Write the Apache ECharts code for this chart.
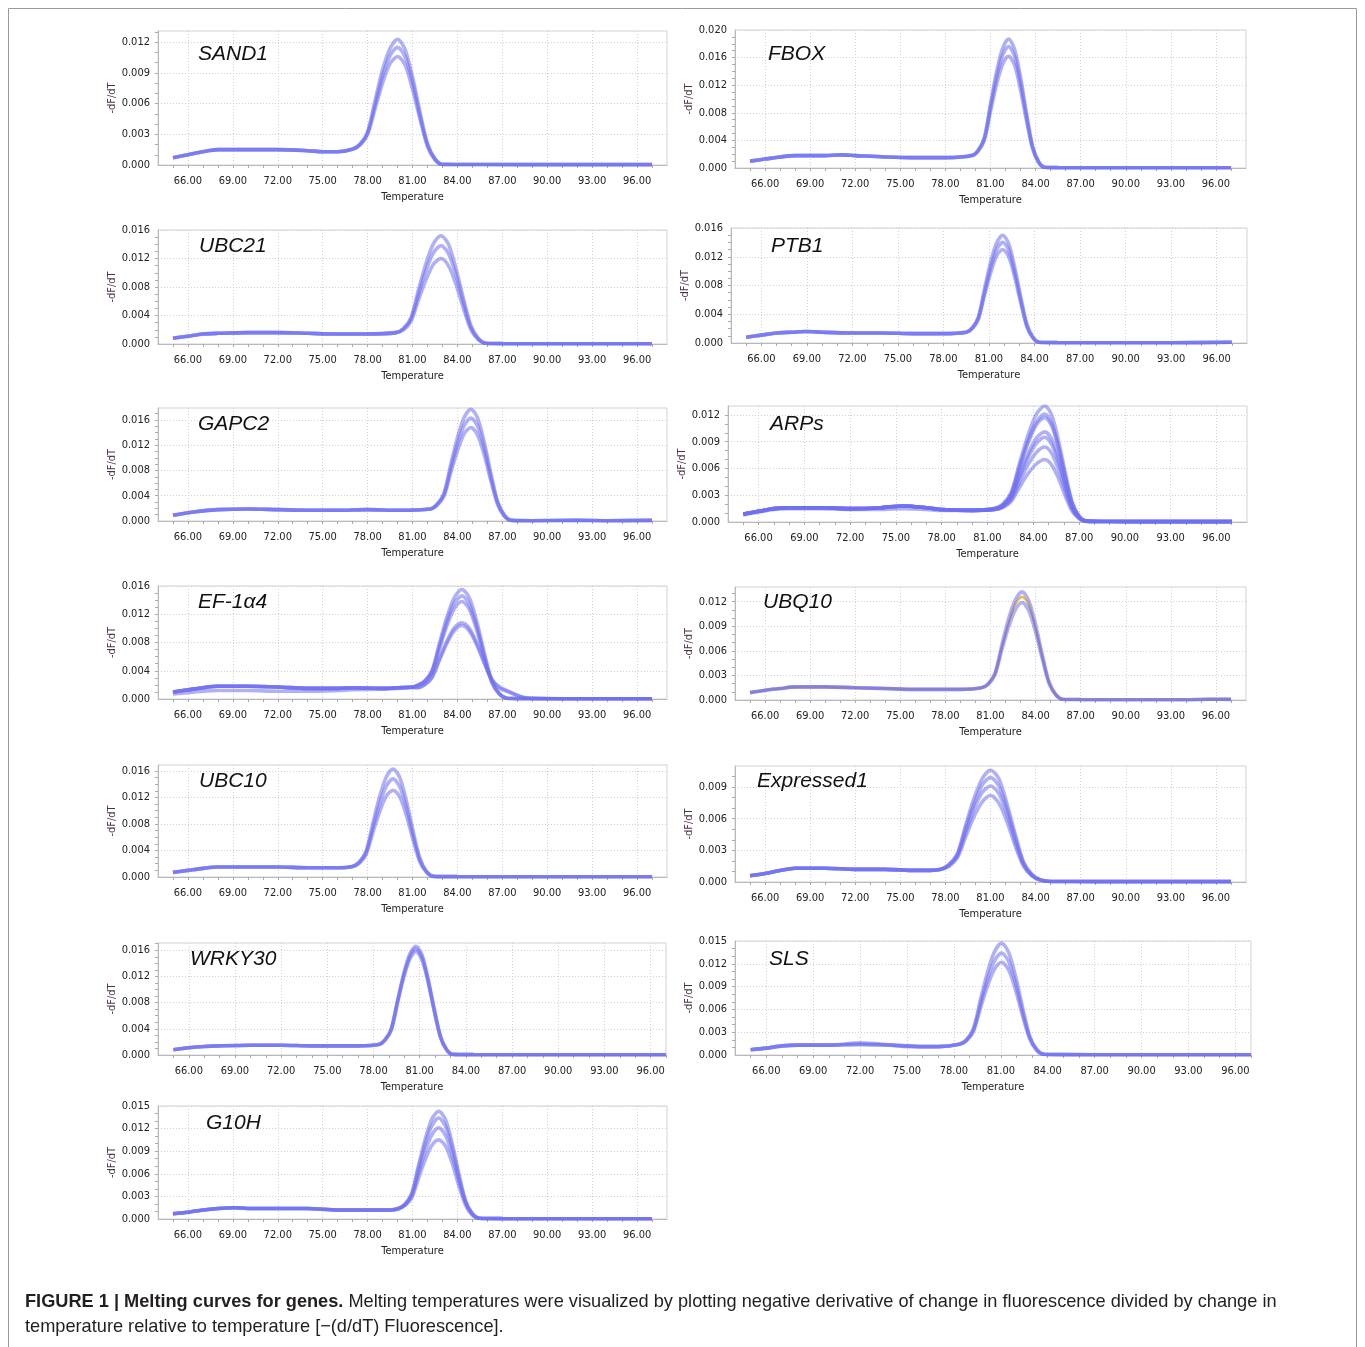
<!DOCTYPE html>
<html><head><meta charset="utf-8">
<script src="https://cdn.jsdelivr.net/npm/echarts@6/dist/echarts.min.js"></script>
<style>html,body{margin:0;padding:0;background:#fff}#c{width:1365px;height:1347px}</style>
</head><body><div id="c"></div><script>
// ---------------- tick labels ----------------
const X_LABELS = [66, 69, 72, 75, 78, 81, 84, 87, 90, 93, 96];
const X_MINOR = [65,66,67,68,69,70,71,72,73,74,75,76,77,78,79,80,81,82,83,84,85,86,87,88,89,90,91,92,93,94,95,96,97];
const Y_T_12 = [0, 0.003, 0.006, 0.009, 0.012];
const Y_T_16 = [0, 0.004, 0.008, 0.012, 0.016];
const Y_T_20 = [0, 0.004, 0.008, 0.012, 0.016, 0.020];
const Y_T_15 = [0, 0.003, 0.006, 0.009, 0.012, 0.015];
const Y_T_9 = [0, 0.003, 0.006, 0.009];

// ---------------- data (temperature, -dF/dT) ----------------
// SAND1
const SAND1_T = [65,66,67,68,70,72,74,75,76, 77,77.5,78,78.5,79,79.5,80,80.5,81,81.5,82,82.5,83, 84,88,92,97];
const SAND1_base = [[0.0007,0.0010,0.0013,0.0015,0.0015,0.0015,0.0014,0.0013,0.0013]];
const SAND1_peak = [
 [0.00156,0.00205,0.00325,0.0063,0.0093,0.0114,0.0123,0.0113,0.0086,0.0052,0.0021,0.0006,0.00006],
 [0.00155,0.0020,0.0031,0.0059,0.0087,0.0107,0.0115,0.0106,0.0081,0.0048,0.0020,0.0006,0.00006],
 [0.00154,0.00195,0.0030,0.0055,0.0080,0.0099,0.0106,0.0098,0.0074,0.0045,0.0018,0.0005,0.00005]];
const SAND1_tail = [[0.00005,0.00004,0.00004,0.00004]];

// FBOX
const FBOX_T = [65,66,67,68,70,71,72,74,76,78, 79.8,80.2,80.6,81.0,81.4,81.8,82.2,82.6,83.0,83.4,83.8,84.2,84.6, 85.5,88,92,97];
const FBOX_base = [[0.0010,0.0013,0.0016,0.0018,0.0018,0.0019,0.0018,0.0016,0.0015,0.0015]];
const FBOX_peak = [
 [0.0019,0.0026,0.0045,0.0093,0.0139,0.0173,0.0187,0.0172,0.0131,0.0079,0.0032,0.0009,0.0001],
 [0.0018,0.0026,0.0043,0.0088,0.0131,0.0163,0.0176,0.0162,0.0123,0.0074,0.0030,0.0009,0.0001],
 [0.0018,0.0025,0.0041,0.0082,0.0121,0.0150,0.0162,0.0149,0.0113,0.0068,0.0028,0.0008,0.0001]];
const FBOX_tail = [[0.00005,0.00004,0.00004,0.00003]];

// UBC21
const UBC21_T = [65,66,67,68,70,72,74,76,78, 79.9,80.4,80.9,81.4,81.9,82.4,82.9,83.4,83.9,84.4,84.9,85.4,85.9, 87,90,93,97];
const UBC21_base = [[0.0008,0.0011,0.0014,0.0015,0.0016,0.0016,0.0015,0.0014,0.0014]];
const UBC21_peak = [
 [0.0016,0.0022,0.0037,0.0076,0.0113,0.0141,0.0152,0.0140,0.0106,0.0064,0.0026,0.0008,0.0001],
 [0.0016,0.0021,0.0035,0.0070,0.0103,0.0128,0.0138,0.0127,0.0097,0.0058,0.0023,0.0007,0.0001],
 [0.0016,0.0020,0.0032,0.0062,0.0090,0.0112,0.0120,0.0110,0.0084,0.0050,0.0020,0.0006,0.0001]];
const UBC21_tail = [[0.00005,0.00004,0.00004,0.00004]];

// PTB1
const PTB1_T = [65,66,67,68,69,70,72,74,76,78, 79.5,79.9,80.3,80.7,81.1,81.5,81.9,82.3,82.7,83.1,83.5,83.9,84.3, 85.5,89,93,97];
const PTB1_base = [[0.0008,0.0011,0.0014,0.0015,0.0016,0.0015,0.0014,0.0014,0.0013,0.0013]];
const PTB1_peak = [
 [0.0015,0.0021,0.0036,0.0075,0.0112,0.0139,0.0150,0.0138,0.0105,0.0063,0.0026,0.0008,0.0001],
 [0.0015,0.0021,0.0035,0.0070,0.0104,0.0130,0.0140,0.0129,0.0098,0.0059,0.0024,0.0007,0.0001],
 [0.0015,0.0020,0.0033,0.0066,0.0097,0.0121,0.0130,0.0120,0.0091,0.0055,0.0022,0.0007,0.0001]];
const PTB1_tail = [[0.00005,0.00004,0.00004,0.0001]];

// GAPC2
const GAPC2_T = [65,66,67,68,70,72,74,76,78,80, 82.2,82.65,83.1,83.55,84.0,84.45,84.9,85.35,85.8,86.25,86.7,87.15,87.6, 89,92,94,97];
const GAPC2_base = [[0.0009,0.0013,0.0016,0.0018,0.0019,0.0018,0.0017,0.0017,0.0018,0.0017]];
const GAPC2_peak = [
 [0.0019,0.0027,0.0044,0.0089,0.0132,0.0164,0.0177,0.0163,0.0124,0.0074,0.0030,0.0009,0.0001],
 [0.0019,0.0026,0.0042,0.0083,0.0122,0.0151,0.0163,0.0150,0.0114,0.0068,0.0028,0.0008,0.0001],
 [0.0019,0.0025,0.0039,0.0076,0.0111,0.0138,0.0148,0.0136,0.0104,0.0062,0.0025,0.0007,0.0001]];
const GAPC2_tail = [[0.00005,0.0001,0.00005,0.0001]];

// ARPs
const ARPs_T = [65,66,67,68,70,72,74,75.5,77,78,80, 81.45,82.0,82.55,83.1,83.65,84.2,84.75,85.2,85.65,86.1,86.55,87.0,87.45, 89,92,97];
const ARPs_base = [
 [0.0008,0.0011,0.0014,0.0015,0.0015,0.0014,0.0014,0.0015,0.0014,0.0013,0.0013],
 [0.0009,0.0012,0.0015,0.0016,0.0016,0.0015,0.0016,0.0018,0.0016,0.0014,0.0013]];
const ARPs_peak = [
 [0.0014,0.0016,0.0023,0.0039,0.0054,0.0065,0.0070,0.0064,0.0049,0.0029,0.0012,0.0004,0.0001],
 [0.0014,0.0017,0.0025,0.0045,0.0064,0.0078,0.0084,0.0077,0.0059,0.0035,0.0014,0.0004,0.0001],
 [0.0014,0.0018,0.0027,0.0050,0.0072,0.0088,0.0095,0.0087,0.0067,0.0040,0.0016,0.0005,0.0001],
 [0.0014,0.0018,0.0028,0.0053,0.0076,0.0094,0.0101,0.0093,0.0071,0.0042,0.0017,0.0005,0.0001],
 [0.0015,0.0019,0.0031,0.0060,0.0088,0.0109,0.0117,0.0108,0.0082,0.0049,0.0020,0.0006,0.0001],
 [0.0015,0.0019,0.0031,0.0062,0.0091,0.0112,0.0121,0.0111,0.0085,0.0051,0.0021,0.0006,0.0001],
 [0.0015,0.0020,0.0033,0.0066,0.0097,0.0121,0.0130,0.0120,0.0091,0.0055,0.0022,0.0007,0.0001]];
const ARPs_tail = [[0.00005,0.00004,0.00004]];

// EF-1a4
const EF_T = [65,66,67,68,70,72,74,76,77,79,80,81, 81.3,81.8,82.3,82.8,83.3,83.8,84.3,84.8,85.3,85.8,86.3,86.8,87.3, 87.8,88.3,88.8,92,97];
const EF_base = [
 [0.0007,0.0009,0.0011,0.0012,0.0012,0.0011,0.0011,0.0012,0.0013,0.0014,0.0015,0.0016],
 [0.0010,0.0013,0.0016,0.0018,0.0018,0.0017,0.0015,0.0015,0.0016,0.0015,0.0016,0.0017]];
const EF_peak = [
 [0.0016,0.0020,0.0031,0.0057,0.0082,0.0101,0.0108,0.0100,0.0079,0.0052,0.0028,0.0017,0.0012],
 [0.0016,0.0020,0.0030,0.0055,0.0079,0.0097,0.0104,0.0096,0.0076,0.0050,0.0027,0.0016,0.0011],
 [0.0019,0.0024,0.0038,0.0071,0.0104,0.0128,0.0138,0.0127,0.0097,0.0058,0.0023,0.0007,0.0001],
 [0.0019,0.0025,0.0039,0.0075,0.0110,0.0136,0.0146,0.0134,0.0102,0.0061,0.0025,0.0007,0.0001],
 [0.0019,0.0025,0.0040,0.0079,0.0116,0.0144,0.0155,0.0143,0.0109,0.0065,0.0026,0.0008,0.0001]];
const EF_tail = [
 [0.0007,0.0003,0.0001,0.00004,0.00003],
 [0.0007,0.0003,0.0001,0.00004,0.00003],
 [0.00006,0.00005,0.00005,0.00004,0.00003]];

// UBQ10
const UBQ10_T = [65,66,67,68,70,72,74,76,78,79, 80.4,80.85,81.3,81.75,82.2,82.65,83.1,83.55,84.0,84.45,84.9,85.35,85.8, 87,90,94,95.5,97];
const UBQ10_base = [[0.0009,0.0012,0.0014,0.0016,0.0016,0.0015,0.0014,0.0013,0.0013,0.0013]];
const UBQ10_peak = [
 [0.0015,0.0020,0.0032,0.0064,0.0094,0.0117,0.0126,0.0116,0.0088,0.0053,0.0021,0.0006,0.0001],
 [0.0015,0.0019,0.0031,0.0061,0.0089,0.0110,0.0119,0.0109,0.0083,0.0050,0.0020,0.0006,0.0001],
 [0.0015,0.0020,0.0033,0.0067,0.0099,0.0122,0.0132,0.0121,0.0092,0.0055,0.0022,0.0007,0.0001]];
const UBQ10_tail = [[0.00005,0.00003,0.00003,0.0001,0.00008]];

// UBC10
const UBC10_T = [65,66,67,68,70,72,74,75,76, 77.0,77.45,77.9,78.35,78.8,79.25,79.7,80.15,80.6,81.05,81.5,81.95,82.4, 84,88,92,97];
const UBC10_base = [[0.0007,0.0010,0.0013,0.0015,0.0015,0.0015,0.0014,0.0014,0.0014]];
const UBC10_peak = [
 [0.0016,0.0023,0.0039,0.0081,0.0121,0.0151,0.0163,0.0150,0.0114,0.0068,0.0028,0.0008,0.0001],
 [0.0016,0.0022,0.0037,0.0074,0.0110,0.0137,0.0148,0.0136,0.0104,0.0062,0.0025,0.0007,0.0001],
 [0.0016,0.0021,0.0034,0.0067,0.0098,0.0122,0.0131,0.0121,0.0092,0.0055,0.0022,0.0007,0.0001]];
const UBC10_tail = [[0.00005,0.00004,0.00004,0.00004]];

// Expressed1
const EXP1_T = [65,66,67,68,70,72,74,76,77, 77.7,78.25,78.8,79.35,79.9,80.45,81.0,81.55,82.1,82.65,83.2,83.75,84.3, 85.0,88,92,97];
const EXP1_base = [[0.0006,0.0008,0.0011,0.0013,0.0013,0.0012,0.0012,0.0011,0.0011]];
const EXP1_peak = [
 [0.0012,0.0017,0.0027,0.0054,0.0079,0.0098,0.0106,0.0098,0.0074,0.0045,0.0019,0.0007,0.0002],
 [0.0012,0.0016,0.0026,0.0051,0.0074,0.0092,0.0099,0.0091,0.0069,0.0042,0.0018,0.0007,0.0002],
 [0.0012,0.0016,0.0025,0.0047,0.0069,0.0085,0.0091,0.0084,0.0064,0.0038,0.0016,0.0006,0.0002],
 [0.0012,0.0015,0.0023,0.0043,0.0062,0.0076,0.0082,0.0075,0.0057,0.0034,0.0015,0.0006,0.0002]];
const EXP1_tail = [[0.00005,0.00004,0.00004,0.00004]];

// WRKY30
const WRKY30_T = [65,66,67,68,70,72,74,76,77, 78.35,78.75,79.15,79.55,79.95,80.35,80.75,81.15,81.55,81.95,82.35,82.75,83.15, 84.5,88,92,97];
const WRKY30_base = [[0.0008,0.0011,0.0013,0.0014,0.0015,0.0015,0.0014,0.0014,0.0014]];
const WRKY30_peak = [
 [0.0016,0.0023,0.0040,0.0082,0.0123,0.0154,0.0166,0.0153,0.0116,0.0070,0.0028,0.0008,0.0001],
 [0.0016,0.0023,0.0039,0.0080,0.0120,0.0150,0.0162,0.0149,0.0113,0.0068,0.0028,0.0008,0.0001],
 [0.0016,0.0023,0.0038,0.0079,0.0118,0.0146,0.0158,0.0145,0.0111,0.0066,0.0027,0.0008,0.0001]];
const WRKY30_tail = [[0.00005,0.00004,0.00004,0.00004]];

// SLS
const SLS_T = [65,66,67,68,70,72,74,75,76,77, 78.35,78.8,79.25,79.7,80.15,80.6,81.05,81.5,81.95,82.4,82.85,83.3,83.75, 85,89,93,97];
const SLS_base = [
 [0.0007,0.0009,0.0012,0.0013,0.0013,0.0016,0.0013,0.0011,0.0011,0.0011],
 [0.0007,0.0009,0.0012,0.0013,0.0013,0.0014,0.0013,0.0012,0.0011,0.0011]];
const SLS_peak = [
 [0.0014,0.0020,0.0035,0.0073,0.0109,0.0136,0.0147,0.0135,0.0103,0.0062,0.0025,0.0007,0.0001],
 [0.0014,0.0019,0.0033,0.0067,0.0100,0.0124,0.0134,0.0123,0.0094,0.0056,0.0023,0.0007,0.0001],
 [0.0014,0.0019,0.0031,0.0062,0.0091,0.0113,0.0122,0.0112,0.0085,0.0051,0.0021,0.0006,0.0001]];
const SLS_tail = [[0.00005,0.00004,0.00004,0.00004]];

// G10H
const G10H_T = [65,66,67,68,69,70,72,74,76,78,79.5, 80.05,80.5,80.95,81.4,81.85,82.3,82.75,83.2,83.65,84.1,84.55,85.0,85.45, 87,90,93,97];
const G10H_base = [[0.0007,0.0009,0.0012,0.0014,0.0015,0.0014,0.0014,0.0014,0.0012,0.0012,0.0012]];
const G10H_peak = [
 [0.0013,0.0018,0.0028,0.0054,0.0079,0.0098,0.0105,0.0097,0.0074,0.0044,0.0018,0.0005,0.0001],
 [0.0014,0.0019,0.0031,0.0061,0.0090,0.0112,0.0121,0.0111,0.0085,0.0051,0.0021,0.0006,0.0001],
 [0.0014,0.0019,0.0033,0.0067,0.0100,0.0124,0.0134,0.0123,0.0094,0.0056,0.0023,0.0007,0.0001],
 [0.0014,0.0020,0.0034,0.0071,0.0106,0.0133,0.0143,0.0132,0.0100,0.0060,0.0024,0.0007,0.0001]];
const G10H_tail = [[0.00005,0.00004,0.00004,0.00004]];

// ---------------- panels (layout) ----------------
const PANELS = [
 {name:'SAND1', T:SAND1_T, base:SAND1_base, peak:SAND1_peak, tail:SAND1_tail, left:158, top:31, width:509, height:134, xmax:98, ymax:0.0131, yt:Y_T_12, lx:198, ly:54},
 {name:'FBOX', T:FBOX_T, base:FBOX_base, peak:FBOX_peak, tail:FBOX_tail, left:735, top:30, width:511, height:138, xmax:98, ymax:0.020, yt:Y_T_20, lx:768, ly:54},
 {name:'UBC21', T:UBC21_T, base:UBC21_base, peak:UBC21_peak, tail:UBC21_tail, left:158, top:230, width:509, height:114, xmax:98, ymax:0.016, yt:Y_T_16, lx:199, ly:246},
 {name:'PTB1', T:PTB1_T, base:PTB1_base, peak:PTB1_peak, tail:PTB1_tail, left:731, top:228, width:516, height:115, xmax:98, ymax:0.016, yt:Y_T_16, lx:771, ly:246},
 {name:'GAPC2', T:GAPC2_T, base:GAPC2_base, peak:GAPC2_peak, tail:GAPC2_tail, left:158, top:408, width:509, height:113, xmax:98, ymax:0.0179, yt:Y_T_16, lx:198, ly:424},
 {name:'ARPs', T:ARPs_T, base:ARPs_base, peak:ARPs_peak, tail:ARPs_tail, left:728, top:406, width:519, height:116, xmax:98, ymax:0.013, yt:Y_T_12, lx:770, ly:424},
 {name:'EF-1α4', T:EF_T, base:EF_base, peak:EF_peak, tail:EF_tail, left:158, top:586, width:509, height:113, xmax:98, ymax:0.016, yt:Y_T_16, lx:198, ly:602},
 {name:'UBQ10', T:UBQ10_T, base:UBQ10_base, peak:UBQ10_peak, tail:UBQ10_tail, left:735, top:587, width:511, height:113, xmax:98, ymax:0.0138, yt:Y_T_12, lx:763, ly:602, colors:['#e2b93b']},
 {name:'UBC10', T:UBC10_T, base:UBC10_base, peak:UBC10_peak, tail:UBC10_tail, left:158, top:765, width:509, height:112, xmax:98, ymax:0.0169, yt:Y_T_16, lx:199, ly:781},
 {name:'Expressed1', T:EXP1_T, base:EXP1_base, peak:EXP1_peak, tail:EXP1_tail, left:735, top:766, width:511, height:116, xmax:98, ymax:0.011, yt:Y_T_9, lx:757, ly:781},
 {name:'WRKY30', T:WRKY30_T, base:WRKY30_base, peak:WRKY30_peak, tail:WRKY30_tail, left:158, top:943, width:508, height:112, xmax:97, ymax:0.0171, yt:Y_T_16, lx:190, ly:959},
 {name:'SLS', T:SLS_T, base:SLS_base, peak:SLS_peak, tail:SLS_tail, left:735, top:941, width:516, height:114, xmax:97, ymax:0.015, yt:Y_T_15, lx:769, ly:959},
 {name:'G10H', T:G10H_T, base:G10H_base, peak:G10H_peak, tail:G10H_tail, left:158, top:1106, width:509, height:113, xmax:98, ymax:0.015, yt:Y_T_15, lx:206, ly:1123}
];

const LINE_COLOR = '#7070f0';
const TICK_FONT = "'DejaVu Sans Condensed','DejaVu Sans',sans-serif";
const grid = [], xAxis = [], yAxis = [], series = [], graphic = [];

PANELS.forEach((p, i) => {
  grid.push({left:p.left, top:p.top, width:p.width, height:p.height, show:true, borderColor:'#d2d2d2', borderWidth:1, backgroundColor:'#fff'});
  xAxis.push({type:'value', gridIndex:i, min:64, max:p.xmax, position:'bottom',
    name:'Temperature', nameLocation:'middle', nameGap:27,
    nameTextStyle:{fontFamily:TICK_FONT, fontSize:11, color:'#222'},
    axisLine:{show:true, onZero:false, lineStyle:{color:'#b8b8c0', width:1}},
    axisTick:{show:true, customValues:X_MINOR, length:3, lineStyle:{color:'#a8a8b0'}},
    axisLabel:{customValues:X_LABELS, formatter:v=>v.toFixed(2), margin:11, fontFamily:TICK_FONT, fontSize:11, color:'#222'},
    splitLine:{show:false}});
  xAxis.push({type:'value', gridIndex:i, min:64, max:p.xmax, position:'top',
    axisLine:{show:false}, axisTick:{show:false, customValues:X_LABELS}, axisLabel:{show:false},
    splitLine:{show:true, lineStyle:{color:'#cfcfd6', type:[1,2], width:1}}});
  const minor = [];
  for (let v = 0.001; v < p.ymax - 1e-9; v += 0.001) minor.push(+v.toFixed(3));
  yAxis.push({type:'value', gridIndex:i, min:0, max:p.ymax, position:'left',
    name:'-dF/dT', nameLocation:'middle', nameGap:39,
    nameTextStyle:{fontFamily:TICK_FONT, fontSize:11, color:'#4a3048'},
    axisLine:{show:true, onZero:false, lineStyle:{color:'#b8b8c0', width:1}},
    axisTick:{show:true, customValues:minor, length:3, lineStyle:{color:'#a8a8b0'}},
    axisLabel:{customValues:p.yt, formatter:v=>v.toFixed(3), margin:8, fontFamily:TICK_FONT, fontSize:11, color:'#222'},
    splitLine:{show:false}});
  yAxis.push({type:'value', gridIndex:i, min:0, max:p.ymax, position:'right',
    axisLine:{show:false}, axisTick:{show:false, customValues:p.yt}, axisLabel:{show:false},
    splitLine:{show:true, lineStyle:{color:'#cfcfd6', type:[1,2], width:1}}});

  p.peak.forEach((pk, r) => {
    const b = p.base[Math.min(r, p.base.length - 1)];
    const t = p.tail[Math.min(r, p.tail.length - 1)];
    const ys = b.concat(pk, t);
    const special = p.colors && p.colors[r];
    series.push({type:'line', xAxisIndex:2*i, yAxisIndex:2*i, silent:true, animation:false,
      showSymbol:false, symbol:'none', smooth:0.3, z:3,
      lineStyle:{color:special || LINE_COLOR, width:special ? 2.5 : 3.6, opacity:special ? 0.9 : 0.55},
      data:p.T.map((tt, k) => [tt, ys[k]])});
  });

  graphic.push({type:'text', left:p.lx, top:p.ly - 10, z:10,
    style:{text:p.name, font:"italic 21px 'Liberation Sans', Arial, sans-serif", fill:'#111'}});
});

graphic.push({type:'rect', z:-1, shape:{x:8.5, y:8.5, width:1348, height:1360},
  style:{fill:null, stroke:'#9a9a9a', lineWidth:1}});
graphic.push({type:'text', left:25, top:1293, z:10,
  style:{text:'{b|FIGURE 1 | Melting curves for genes.} Melting temperatures were visualized by plotting negative derivative of change in fluorescence divided by change in',
    font:"18.2px 'Liberation Sans', Arial, sans-serif", fill:'#231f20',
    rich:{b:{font:"bold 18.2px 'Liberation Sans', Arial, sans-serif", fill:'#231f20'}}}});
graphic.push({type:'text', left:25, top:1318, z:10,
  style:{text:'temperature relative to temperature [\u2212(d/dT) Fluorescence].',
    font:"18.2px 'Liberation Sans', Arial, sans-serif", fill:'#231f20'}});

const chart = echarts.init(document.getElementById('c'), null, {renderer:'canvas'});
chart.setOption({animation:false, backgroundColor:'#fff', grid, xAxis, yAxis, series, graphic});
</script></body></html>
